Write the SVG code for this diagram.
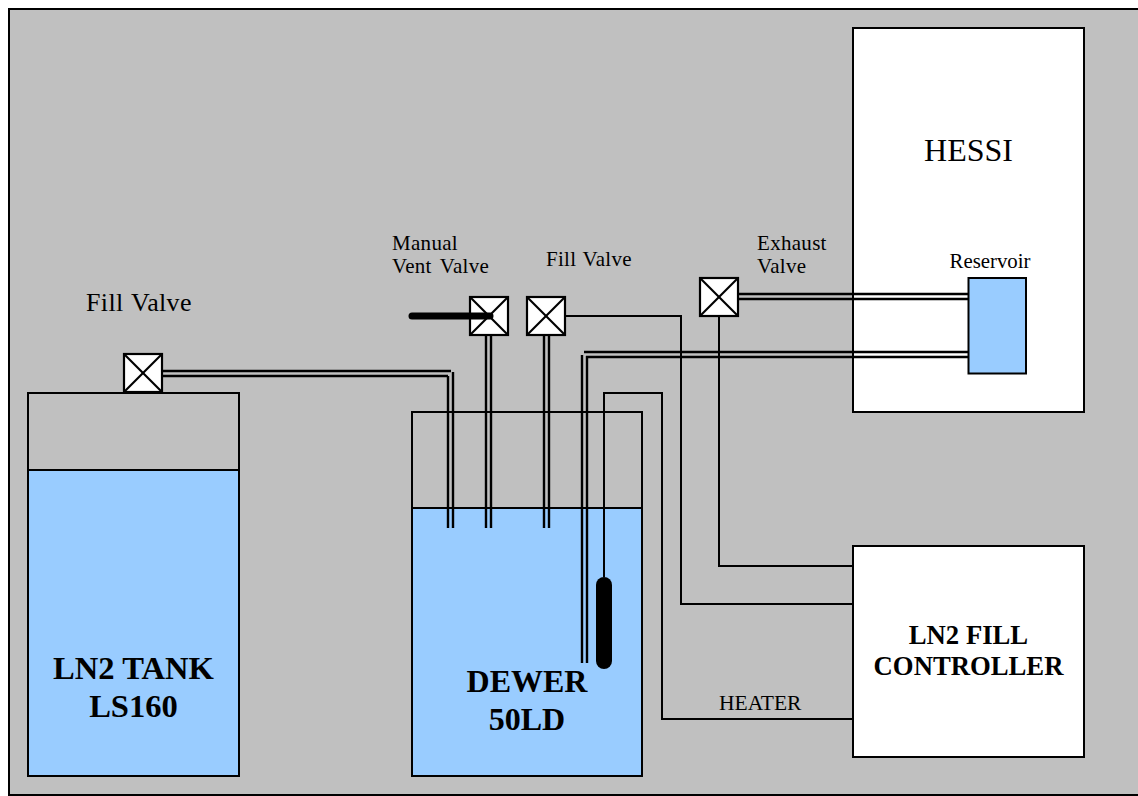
<svg xmlns="http://www.w3.org/2000/svg" width="1138" height="796" viewBox="0 0 1138 796">
<style>
text{font-family:"Liberation Serif","Times New Roman",serif;fill:#000}
.b{font-weight:bold}
.box{stroke:#000;stroke-width:2;fill:#fff}
.wat{stroke:#000;stroke-width:2;fill:#99ccff}
.emp{stroke:#000;stroke-width:2;fill:#c0c0c0}
.w{fill:none;stroke:#000;stroke-width:2}
.p{fill:none;stroke:#000;stroke-width:2.400}
.valve line,.valve rect{stroke:#000;stroke-width:2.200}
.valve rect{fill:#fff}
.valve line.h{stroke-width:7;stroke-linecap:round}
.s{font-size:21px;letter-spacing:.3px;word-spacing:1px}
</style>
<rect width="1138" height="796" fill="#fff"/>
<rect id="frame" x="9" y="9" width="1135" height="786" fill="#c0c0c0" stroke="#000" stroke-width="2"/>
<g id="tank">
<rect class="emp" x="28" y="393" width="211" height="383"/>
<rect class="wat" x="28" y="470" width="211" height="306"/>
<text class="b" x="133.500" y="679" font-size="32.600" text-anchor="middle">LN2 TANK</text>
<text class="b" x="133.500" y="717" font-size="32.600" text-anchor="middle">LS160</text>
</g>
<g id="dewer">
<rect class="emp" x="412" y="412" width="230" height="364"/>
<rect class="wat" x="412" y="508" width="230" height="268"/>
<text class="b" x="527" y="692" font-size="32" text-anchor="middle">DEWER</text>
<text class="b" x="527" y="730" font-size="32" text-anchor="middle">50LD</text>
</g>
<g id="hessi">
<rect class="box" x="853" y="28" width="231" height="384"/>
<text x="968.500" y="161" font-size="32" text-anchor="middle">HESSI</text>
</g>
<g id="controller">
<rect class="box" x="853" y="546" width="231" height="211"/>
<text class="b" x="968.500" y="644" font-size="26.700" text-anchor="middle">LN2 FILL</text>
<text class="b" x="968.500" y="675" font-size="26.700" text-anchor="middle">CONTROLLER</text>
</g>
<g id="connectors">
<path class="p" d="M162 371H451M162 376H448M448 376V528M453 372V528"/>
<path class="p" d="M486 335V528M491 335V528"/>
<path class="p" d="M544 335V528M549 335V528"/>
<path class="p" d="M738 294H968M738 299H968"/>
<path class="p" d="M584 352H968M586 357H968M582 355V663M587 356V663"/>
<path class="w" d="M565 316H681V604H853"/>
<path class="w" d="M719 316V566H853"/>
<path class="w" d="M604 577V393H662V719H853"/>
<line x1="604" y1="585" x2="604" y2="661" stroke="#000" stroke-width="16" stroke-linecap="round"/>
</g>
<g id="reservoir">
<rect class="wat" x="968.500" y="278" width="57.500" height="95.500"/>
<text x="990" y="268" font-size="20.800" text-anchor="middle">Reservoir</text>
</g>
<g id="valve-tank" class="valve">
<rect x="124" y="354" width="38" height="38"/><line x1="124" y1="354" x2="162" y2="392"/><line x1="162" y1="354" x2="124" y2="392"/>
<text x="86" y="311" font-size="26" letter-spacing=".35" word-spacing="1">Fill Valve</text>
</g>
<g id="valve-vent" class="valve">
<rect x="470" y="297" width="38" height="38"/><line x1="470" y1="297" x2="508" y2="335"/><line x1="508" y1="297" x2="470" y2="335"/>
<line class="h" x1="412" y1="316" x2="490" y2="316"/>
<text class="s" x="392" y="250">Manual</text>
<text class="s" x="392" y="273" style="word-spacing:3px">Vent Valve</text>
</g>
<g id="valve-fill" class="valve">
<rect x="527" y="297" width="38" height="38"/><line x1="527" y1="297" x2="565" y2="335"/><line x1="565" y1="297" x2="527" y2="335"/>
<text class="s" x="546" y="266">Fill Valve</text>
</g>
<g id="valve-exhaust" class="valve">
<rect x="700" y="278" width="38" height="38"/><line x1="700" y1="278" x2="738" y2="316"/><line x1="738" y1="278" x2="700" y2="316"/>
<text class="s" x="757" y="250">Exhaust</text>
<text class="s" x="757" y="273">Valve</text>
</g>
<text id="heater-label" x="719" y="710" font-size="21.500">HEATER</text>
</svg>
